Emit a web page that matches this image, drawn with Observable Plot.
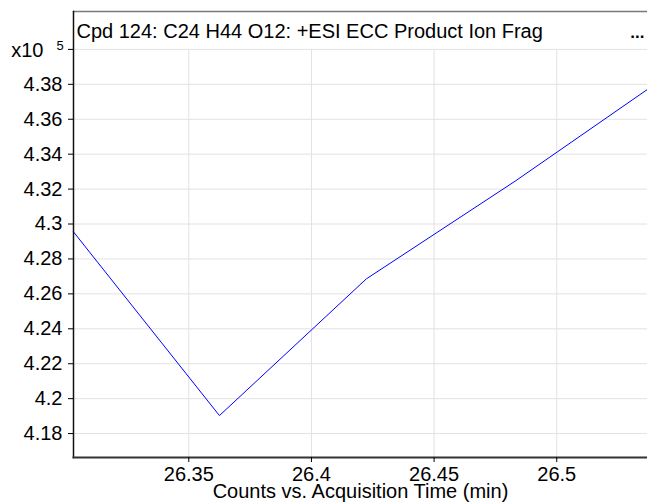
<!DOCTYPE html>
<html>
<head>
<meta charset="utf-8">
<script src="https://cdn.jsdelivr.net/npm/d3@7"></script>
<script src="https://cdn.jsdelivr.net/npm/@observablehq/plot@0.6"></script>
<style>
  html, body { margin: 0; padding: 0; background: #fff; }
  #chart { width: 647px; height: 502px; }
</style>
</head>
<body>
<div id="chart"></div>
<script>
// Data (counts in units of 10^5)
const times = [26.303, 26.3625, 26.4224, 26.483, 26.537];
const counts = [4.2955, 4.1903, 4.2686, 4.3245, 4.3771];

const xTicks = [26.35, 26.4, 26.45, 26.5];
const xTickLabels = ["26.35", "26.4", "26.45", "26.5"];
const yTicks = [4.18, 4.2, 4.22, 4.24, 4.26, 4.28, 4.3, 4.32, 4.34, 4.36, 4.38, 4.40];
const yTickLabels = ["4.18", "4.2", "4.22", "4.24", "4.26", "4.28", "4.3", "4.32", "4.34", "4.36", "4.38", ""];

const xDomain = [26.303, 26.537];
const yDomain = [4.1663, 4.4217];
const yGridTop = 4.40;

const title = "Cpd 124: C24 H44 O12: +ESI ECC Product Ion Frag";
const xLabel = "Counts vs. Acquisition Time (min)";

const data = times.map((t, i) => ({t, c: counts[i]}));
const font = "Liberation Sans, Arial, Helvetica, sans-serif";

const chart = Plot.plot({
  width: 647,
  height: 502,
  marginLeft: 73,
  marginRight: 0,
  marginTop: 11,
  marginBottom: 45,
  style: {fontFamily: font, fontSize: "20px", background: "#fff", color: "#000"},
  x: {domain: xDomain},
  y: {domain: yDomain},
  marks: [
    Plot.ruleY(yTicks, {stroke: "#e2e2e2", strokeWidth: 1}),
    Plot.ruleX(xTicks, {y1: yDomain[0], y2: yGridTop, stroke: "#e2e2e2", strokeWidth: 1}),
    Plot.line(data, {x: "t", y: "c", stroke: "#0000ff", strokeWidth: 1}),
    Plot.frame({anchor: "top", stroke: "#7a7a7a", strokeWidth: 1.5}),
    Plot.frame({anchor: "left", stroke: "#111", strokeWidth: 1.5}),
    Plot.frame({anchor: "bottom", stroke: "#333", strokeWidth: 2}),
    Plot.axisY({
      ticks: yTicks,
      tickFormat: (d, i) => yTickLabels[i],
      tickSize: 5,
      tickPadding: 6,
      fontSize: 20,
      stroke: "#000",
      label: null
    }),
    Plot.axisX({
      ticks: xTicks,
      tickFormat: (d, i) => xTickLabels[i],
      tickSize: 5,
      tickPadding: 4,
      fontSize: 20,
      stroke: "#000",
      label: null
    }),
    Plot.text([title], {frameAnchor: "top-left", textAnchor: "start", lineAnchor: "top", dx: 3, dy: 12, fontSize: 20, fill: "#000"}),
    Plot.text(["..."], {frameAnchor: "top-right", textAnchor: "end", lineAnchor: "top", dx: -3, dy: 14, fontSize: 17, fontWeight: "bold", fill: "#000"}),
    Plot.text(["x10"], {frameAnchor: "top-left", textAnchor: "end", lineAnchor: "top", dx: -30, dy: 31, fontSize: 20, fill: "#000"}),
    Plot.text(["5"], {frameAnchor: "top-left", textAnchor: "start", lineAnchor: "top", dx: -17, dy: 29, fontSize: 13, fill: "#000"}),
    Plot.text([xLabel], {frameAnchor: "bottom", textAnchor: "middle", lineAnchor: "middle", dy: 34, fontSize: 20, fill: "#000"})
  ]
});
document.getElementById("chart").appendChild(chart);
</script>
</body>
</html>
